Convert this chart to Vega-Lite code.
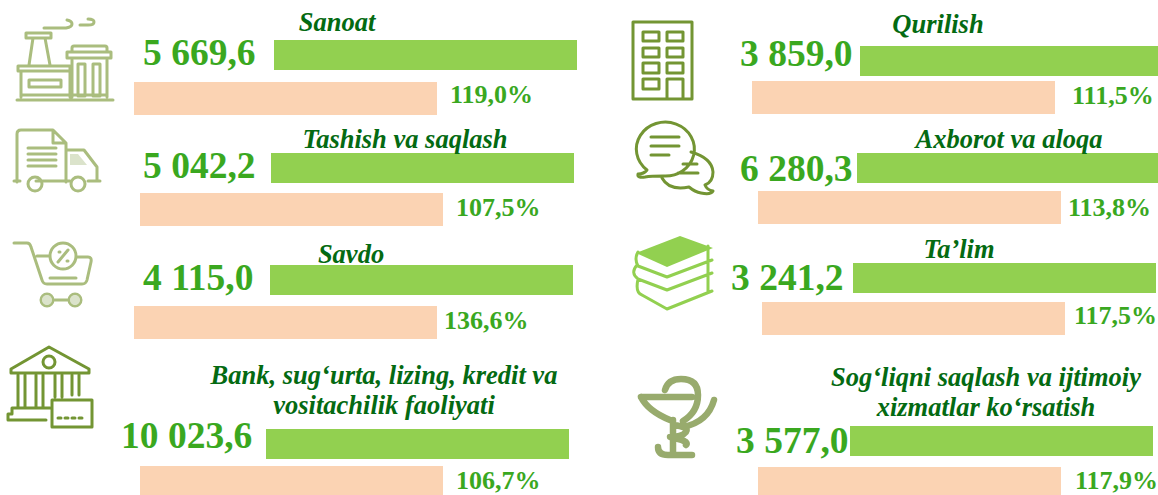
{
"$schema":"https://vega.github.io/schema/vega-lite/v6.json",
"width":1158,"height":495,"padding":0,"autosize":{"type":"none"},
"background":"white",
"config":{"view":{"stroke":null}},
"data":{"values":[
{"id":1,"sector":"Sanoat","title":"Sanoat","value":5669.6,"valueLabel":"5 669,6","growth":119.0,"growthLabel":"119,0%"},
{"id":2,"sector":"Tashish va saqlash","title":"Tashish va saqlash","value":5042.2,"valueLabel":"5 042,2","growth":107.5,"growthLabel":"107,5%"},
{"id":3,"sector":"Savdo","title":"Savdo","value":4115.0,"valueLabel":"4 115,0","growth":136.6,"growthLabel":"136,6%"},
{"id":4,"sector":"Bank","title":"Bank, sug‘urta, lizing, kredit va\nvositachilik faoliyati","value":10023.6,"valueLabel":"10 023,6","growth":106.7,"growthLabel":"106,7%"},
{"id":5,"sector":"Qurilish","title":"Qurilish","value":3859.0,"valueLabel":"3 859,0","growth":111.5,"growthLabel":"111,5%"},
{"id":6,"sector":"Axborot va aloqa","title":"Axborot va aloqa","value":6280.3,"valueLabel":"6 280,3","growth":113.8,"growthLabel":"113,8%"},
{"id":7,"sector":"Ta’lim","title":"Ta’lim","value":3241.2,"valueLabel":"3 241,2","growth":117.5,"growthLabel":"117,5%"},
{"id":8,"sector":"Sog‘liqni saqlash","title":"Sog‘liqni saqlash va ijtimoiy\nxizmatlar ko‘rsatish","value":3577.0,"valueLabel":"3 577,0","growth":117.9,"growthLabel":"117,9%"}
]},
"resolve":{"scale":{"x":"independent","y":"independent","shape":"independent","color":"independent"},"axis":{"x":"independent","y":"independent"}},
"layer":[
{"mark":{"type":"tick","orient":"horizontal","size":303,"thickness":30,"opacity":1,"color":"#92d050"},
 "encoding":{
  "x":{"field":"id","type":"quantitative","axis":null,"scale":{"domain":[1,2,3,4,5,6,7,8],"range":[425.5,422.5,421.5,417.5,1011.5,1008.5,1004.5,1001.5],"zero":false,"nice":false}},
  "y":{"field":"id","type":"quantitative","axis":null,"scale":{"domain":[1,2,3,4,5,6,7,8],"range":[55,168,280,444,61,168,278,441],"zero":false,"nice":false}}}},
{"mark":{"type":"tick","orient":"horizontal","size":303,"thickness":33,"opacity":1,"color":"#fbd3b3"},
 "encoding":{
  "x":{"field":"id","type":"quantitative","axis":null,"scale":{"domain":[1,2,3,4,5,6,7,8],"range":[285.5,291.5,285.5,291.5,903.5,909.5,913.5,909.5],"zero":false,"nice":false}},
  "y":{"field":"id","type":"quantitative","axis":null,"scale":{"domain":[1,2,3,4,5,6,7,8],"range":[98.5,209.5,322.5,482.5,97.5,207.5,318.5,483.5],"zero":false,"nice":false}}}},
{"mark":{"type":"text","font":"Liberation Serif","fontWeight":"bold","fontSize":37.5,"align":"left","baseline":"alphabetic","color":"#3aa81f"},
 "encoding":{
  "text":{"field":"valueLabel"},
  "x":{"field":"id","type":"quantitative","axis":null,"scale":{"domain":[1,2,3,4,5,6,7,8],"range":[143,143,143,121,740,740,731,736],"zero":false,"nice":false}},
  "y":{"field":"id","type":"quantitative","axis":null,"scale":{"domain":[1,2,3,4,5,6,7,8],"range":[65,178,290,448,66,181,290,453],"zero":false,"nice":false}}}},
{"mark":{"type":"text","font":"Liberation Serif","fontWeight":"bold","fontSize":26,"align":"left","baseline":"alphabetic","color":"#3aa81f"},
 "encoding":{
  "text":{"field":"growthLabel"},
  "x":{"field":"id","type":"quantitative","axis":null,"scale":{"domain":[1,2,3,4,5,6,7,8],"range":[450,456,444,456,1072,1068,1074,1075],"zero":false,"nice":false}},
  "y":{"field":"id","type":"quantitative","axis":null,"scale":{"domain":[1,2,3,4,5,6,7,8],"range":[103,216,329,489,104,216,324,489],"zero":false,"nice":false}}}},
{"mark":{"type":"text","font":"Liberation Serif","fontWeight":"bold","fontStyle":"italic","fontSize":26.5,"align":"center","baseline":"alphabetic","color":"#046a12","lineBreak":"\n","lineHeight":30},
 "encoding":{
  "text":{"field":"title"},
  "x":{"field":"id","type":"quantitative","axis":null,"scale":{"domain":[1,2,3,4,5,6,7,8],"range":[337,405,351,384,938,1009,959,986],"zero":false,"nice":false}},
  "y":{"field":"id","type":"quantitative","axis":null,"scale":{"domain":[1,2,3,4,5,6,7,8],"range":[31,148,263,384,33,148,258,386],"zero":false,"nice":false}}}},
{"transform":[{"filter":"datum.id != 8"}],
 "mark":{"type":"point","filled":false,"size":4,"opacity":1,"strokeWidth":3,"strokeJoin":"round","strokeCap":"round"},
 "encoding":{
  "x":{"field":"id","type":"quantitative","axis":null,"scale":{"domain":[1,2,3,4,5,6,7,8],"range":[64,57,52,50,663,675,672,678],"zero":false,"nice":false}},
  "y":{"field":"id","type":"quantitative","axis":null,"scale":{"domain":[1,2,3,4,5,6,7,8],"range":[60,161,274,387,60,158,273,417],"zero":false,"nice":false}},
  "color":{"field":"id","type":"nominal","legend":null,"scale":{"domain":[1,2,3,4,5,6,7,8],"range":["#aabd7e","#aabd7e","#aabd7e","#739533","#739533","#739533","#92d050","#98ab6d"]}},
  "shape":{"field":"id","type":"nominal","legend":null,"scale":{"domain":[1,2,3,4,5,6,7,8],"range":[
   "M-38,-27h25v5h-25zM-31,-22l-4,27M-19,-22l5,27M-46,6h52v5h-52zM-43,11v26M6,11v26M-35,20h32v7h-32zM8,0v37M43,0v37M3,-8h44v6h-44zM8,-8v-4q0,-2 2,-2h31q2,0 2,2v4M14,4h7v32h-7zM29,4h7v32h-7zM-20,-32h22q6,-1 6,-4q0,-3 -5,-4M16,-35h8q6,0 6,-3q0,-3 -6,-3M-47,40h96M-43,35h50M8,35h35",
   "M-40,21V-27q0,-4 4,-4H-4L9,-18V21M-4,-31v13h13M9,-11H27L40,6V20M-43,20h6M-21,20h34M31,20h12M-29,-13h28M-29,-7h28M-29,-1h28M-29,5h28M-29,23a7,7 0 1,0 14,0a7,7 0 1,0 -14,0M14,23a7,7 0 1,0 14,0a7,7 0 1,0 -14,0",
   "M-38,-31h13q3,0 4,4L-10,6q1,4 5,4H30q4,0 5,-4l4,-18q1,-5 -3,-5H26M-15,-18h12M-2,-18a13,13 0 1,0 26,0a13,13 0 1,0 -26,0M6,-12L16,-24M7,-22h1M15,-13h1M-2,4h26M1,26h16M-11,26a6,6 0 1,0 12,0a6,6 0 1,0 -12,0M17,26a6,6 0 1,0 12,0a6,6 0 1,0 -12,0",
   "M-1,-40L-39,-18v4h78v-4zM-7,-25a6,6 0 1,0 12,0a6,6 0 1,0 -12,0M-32,-12v33M-25,-12v33M-14,-12v33M-7,-12v33M5,-12v22M12,-12v22M22,-12v20M29,-12v20M-42,33v-6h4v-6h38M-42,33h38M2,13h40v27h-40zM8,31h3M15,31h3M22,31h3M29,31h3",
   "M-30,-38h59v77h-59zM-20,-28h16v9h-16zM4,-28h16v9h-16zM-20,-12h16v9h-16zM4,-12h16v9h-16zM-20,3h16v10h-16zM4,3h16v10h-16zM-20,19h16v10h-16zM4,39V19h16v20",
   "M-28,12A29,27 0 1,1 -12,18Q-24,18 -30,19Q-38,20 -37,16Q-31,16 -28,12zM-24,-21h28M-24,-12h28M-24,-3h18M16,-6Q37,0 38,14Q38,24 30,27Q32,32 38,33Q36,37 26,35Q20,34 14,29Q-6,33 -13,20M3,15h20M8,6h14",
   "M-34,-21Q-38,-14 -34,-7M-34,-7L-5,4L40,-13M36,-27V-13M-35,-8Q-42,0 -34,6L-5,17L40,0M36,-12V2M-34,6Q-37,20 -30,22L-5,36L40,18M36,2V18",
   "M0,0"]}}}},
{"transform":[{"filter":"datum.id == 8"}],
 "mark":{"type":"point","filled":false,"size":4,"opacity":1,"strokeWidth":6.5,"strokeCap":"round","strokeJoin":"round","stroke":"#98ab6d","shape":"M-37,-20H14M-37,-20Q-30,-6 -8,3M-13,-27Q-10,-38 3,-38Q20,-38 20,-22Q20,-5 5,4M36,-17Q30,5 5,10M-5,3V38M-5,8Q12,10 8,15Q4,20 -8,20Q12,24 8,28M-20,30Q-20,38 -10,38H14"},
 "encoding":{
  "x":{"field":"id","type":"quantitative","axis":null,"scale":{"domain":[8,9],"range":[678,679],"zero":false,"nice":false}},
  "y":{"field":"id","type":"quantitative","axis":null,"scale":{"domain":[8,9],"range":[417,418],"zero":false,"nice":false}}}},
{"transform":[{"filter":"datum.id == 2 || datum.id == 3 || datum.id == 7"}],
 "mark":{"type":"point","filled":true,"size":4,"opacity":1},
 "encoding":{
  "x":{"field":"id","type":"quantitative","axis":null,"scale":{"domain":[2,3,7],"range":[57,52,672],"zero":false,"nice":false}},
  "y":{"field":"id","type":"quantitative","axis":null,"scale":{"domain":[2,3,7],"range":[161,274,273],"zero":false,"nice":false}},
  "color":{"field":"id","type":"nominal","legend":null,"scale":{"domain":[2,3,7],"range":["#dbe3cb","#dbe3cb","#92d050"]}},
  "shape":{"field":"id","type":"nominal","legend":null,"scale":{"domain":[2,3,7],"range":[
   "M13,-7h8l9,11h-17z",
   "M-10,26a5,5 0 1,0 10,0a5,5 0 1,0 -10,0M18,26a5,5 0 1,0 10,0a5,5 0 1,0 -10,0",
   "M8,-37L41,-25L-5,-6L-36,-20z"]}}}}
]
}
